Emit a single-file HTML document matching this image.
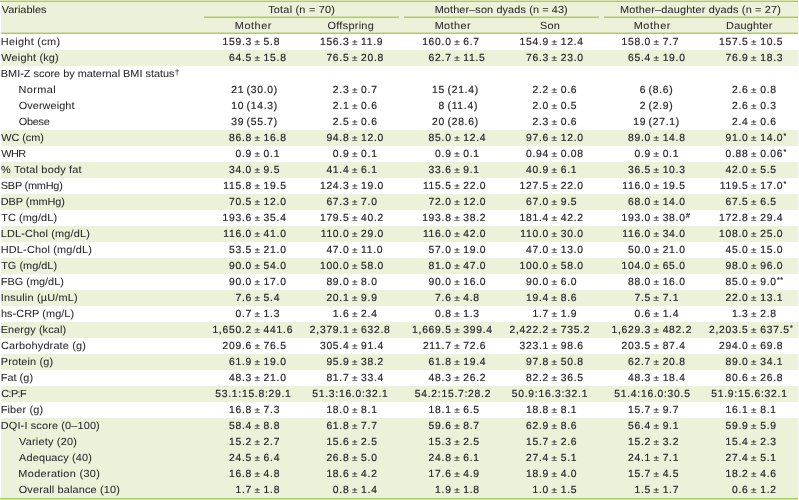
<!DOCTYPE html>
<html lang="en">
<head>
<meta charset="utf-8">
<title>Table</title>
<style>
html,body{margin:0;padding:0;background:#fff;}
body{width:799px;height:500px;overflow:hidden;position:relative;}
.wrap{position:absolute;left:0;top:0;width:799px;height:500px;overflow:hidden}
.bg{position:absolute;left:1px;width:797px;background:#ecf1da}
.ln{position:absolute;height:1px;background:#a8cd58}
table{position:absolute;left:1px;top:3px;width:797px;transform-origin:0 0;text-rendering:geometricPrecision;border-collapse:separate;border-spacing:0;table-layout:fixed;font-family:"Liberation Sans",sans-serif;font-size:10.3px;letter-spacing:0.42px;color:#262626;-webkit-text-stroke:0.2px #262626;}
col.c0{width:203px}
col.cn{width:99px}
th,td{padding:0;margin:0;font-weight:normal;white-space:nowrap;overflow:visible;line-height:16px;height:16px;text-align:left;vertical-align:top;background:transparent}
thead th{text-align:left}
thead tr.h1 th{height:16px;line-height:15px}
thead tr.h2 th{height:16px;line-height:15px}
thead th.v{text-align:left}
span.t{display:inline-block;transform-origin:0 50%}
tbody td{line-height:16px;letter-spacing:0.75px;word-spacing:-1.15px}
tbody td.v{letter-spacing:0.42px;word-spacing:0}
th,td.v{-webkit-text-stroke:0.05px #282828;color:#282828}
td.v sup{font-size:8px;top:-2.5px;margin-left:0.3px}
sup{font-size:7px;line-height:0;vertical-align:baseline;position:relative;top:-3.5px;letter-spacing:0.6px;margin-left:0.2px}
span.a{display:inline-block;text-align:right}
span.p{font-size:10px;margin:0 0.45px 0 0.0px;display:inline-block;line-height:16px;height:16px;vertical-align:top;transform-origin:50% 11px;transform:scaleY(0.85);-webkit-text-stroke:0.1px #262626}
td.c1 span.pm{width:48.0px}
td.c1 span.pr{width:40.15px}
td.c1 span.cp{width:34.3px}
td.c2 span.pm{width:46.45px}
td.c2 span.pr{width:39.0px}
td.c2 span.cp{width:32.3px}
td.c3 span.pm{width:49.65px}
td.c3 span.pr{width:43.0px}
td.c3 span.cp{width:35.8px}
td.c4 span.pm{width:48.05px}
td.c4 span.pr{width:41.0px}
td.c4 span.cp{width:33.8px}
td.c5 span.pm{width:51.0px}
td.c5 span.pr{width:46.1px}
td.c5 span.cp{width:37.3px}
td.c6 span.pm{width:49.55px}
td.c6 span.pr{width:41.0px}
td.c6 span.cp{width:35.3px}
</style>
</head>
<body>
<div class="wrap">
<div class="bg" style="top:2px;height:31px"></div>
<div class="bg" style="top:50px;height:16px"></div>
<div class="bg" style="top:130px;height:16px"></div>
<div class="bg" style="top:162px;height:16px"></div>
<div class="bg" style="top:194px;height:16px"></div>
<div class="bg" style="top:226px;height:16px"></div>
<div class="bg" style="top:258px;height:16px"></div>
<div class="bg" style="top:290px;height:16px"></div>
<div class="bg" style="top:322px;height:16px"></div>
<div class="bg" style="top:354px;height:16px"></div>
<div class="bg" style="top:386px;height:16px"></div>
<div class="bg" style="top:418px;height:80px"></div>
<div class="ln" style="left:0px;width:798px;top:0px;background:#d6e6ae"></div>
<div class="ln" style="left:0px;width:798px;top:1px"></div>
<div class="ln" style="left:204px;width:195px;top:16px;background:#cde09e"></div>
<div class="ln" style="left:204px;width:195px;top:17px"></div>
<div class="ln" style="left:404px;width:195px;top:16px;background:#cde09e"></div>
<div class="ln" style="left:404px;width:195px;top:17px"></div>
<div class="ln" style="left:604px;width:194px;top:16px;background:#cde09e"></div>
<div class="ln" style="left:604px;width:194px;top:17px"></div>
<div class="ln" style="left:1px;width:797px;top:32px;background:#cde09e"></div>
<div class="ln" style="left:1px;width:797px;top:33px"></div>
<div class="ln" style="left:0px;width:798px;top:499px;background:#d3e6ac"></div>
<div class="ln" style="left:0px;width:798px;top:498px"></div>
<div class="ln" style="left:798px;width:1px;top:2px;height:30px;background:#f7f9f1"></div>
<div class="ln" style="left:798px;width:1px;top:50px;height:16px;background:#f7f9f1"></div>
<div class="ln" style="left:798px;width:1px;top:130px;height:16px;background:#f7f9f1"></div>
<div class="ln" style="left:798px;width:1px;top:162px;height:16px;background:#f7f9f1"></div>
<div class="ln" style="left:798px;width:1px;top:194px;height:16px;background:#f7f9f1"></div>
<div class="ln" style="left:798px;width:1px;top:226px;height:16px;background:#f7f9f1"></div>
<div class="ln" style="left:798px;width:1px;top:258px;height:16px;background:#f7f9f1"></div>
<div class="ln" style="left:798px;width:1px;top:290px;height:16px;background:#f7f9f1"></div>
<div class="ln" style="left:798px;width:1px;top:322px;height:16px;background:#f7f9f1"></div>
<div class="ln" style="left:798px;width:1px;top:354px;height:16px;background:#f7f9f1"></div>
<div class="ln" style="left:798px;width:1px;top:386px;height:16px;background:#f7f9f1"></div>
<div class="ln" style="left:798px;width:1px;top:418px;height:80px;background:#f7f9f1"></div>
<table>
<colgroup><col class="c0"><col class="cn"><col class="cn"><col class="cn"><col class="cn"><col class="cn"><col class="cn"></colgroup>
<thead>
<tr class="h1"><th class="v" rowspan="2"><span class="t" style="transform:translateX(0.64px) scaleX(1.06);letter-spacing:0.022px">Variables</span></th><th class="grp g1" colspan="2"><span class="t" style="transform:translateX(64.16px) scaleX(1.06);letter-spacing:0.201px">Total (n = 70)</span></th><th class="grp g2" colspan="2"><span class="t" style="transform:translateX(32.64px) scaleX(1.06);letter-spacing:0.093px">Mother–son dyads (n = 43)</span></th><th class="grp g3" colspan="2"><span class="t" style="transform:translateX(20.09px) scaleX(1.06);letter-spacing:0.148px">Mother–daughter dyads (n = 27)</span></th></tr>
<tr class="h2"><th><span class="t" style="transform:translateX(30.83px) scaleX(1.06);letter-spacing:0.495px">Mother</span></th><th><span class="t" style="transform:translateX(24.42px) scaleX(1.06);letter-spacing:0.27px">Offspring</span></th><th><span class="t" style="transform:translateX(32.64px) scaleX(1.06);letter-spacing:0.359px">Mother</span></th><th><span class="t" style="transform:translateX(39.03px) scaleX(1.06);letter-spacing:0.219px">Son</span></th><th><span class="t" style="transform:translateX(33.64px) scaleX(1.06);letter-spacing:0.541px">Mother</span></th><th><span class="t" style="transform:translateX(27.12px) scaleX(1.06);letter-spacing:0.18px">Daughter</span></th></tr>
</thead>
<tbody>
<tr class="w"><td class="v i0"><span class="t" style="transform:translateX(-0.29px) scaleX(1.06);letter-spacing:0.28px">Height (cm)</span></td><td class="c1"><span class="a pm">159.3</span> <span class="p">±</span> 5.8</td><td class="c2"><span class="a pm">156.3</span> <span class="p">±</span> 11.9</td><td class="c3"><span class="a pm">160.0</span> <span class="p">±</span> 6.7</td><td class="c4"><span class="a pm">154.9</span> <span class="p">±</span> 12.4</td><td class="c5"><span class="a pm">158.0</span> <span class="p">±</span> 7.7</td><td class="c6"><span class="a pm">157.5</span> <span class="p">±</span> 10.5</td></tr>
<tr class="g"><td class="v i0"><span class="t" style="transform:translateX(0.32px) scaleX(1.06);letter-spacing:0.171px">Weight (kg)</span></td><td class="c1"><span class="a pm">64.5</span> <span class="p">±</span> 15.8</td><td class="c2"><span class="a pm">76.5</span> <span class="p">±</span> 20.8</td><td class="c3"><span class="a pm">62.7</span> <span class="p">±</span> 11.5</td><td class="c4"><span class="a pm">76.3</span> <span class="p">±</span> 23.0</td><td class="c5"><span class="a pm">65.4</span> <span class="p">±</span> 19.0</td><td class="c6"><span class="a pm">76.9</span> <span class="p">±</span> 18.3</td></tr>
<tr class="w"><td class="v i0"><span class="t" style="transform:translateX(-0.15px) scaleX(1.06);letter-spacing:-0.011px">BMI-Z score by maternal BMI status<sup>†</sup></span></td><td class="c1"></td><td class="c2"></td><td class="c3"></td><td class="c4"></td><td class="c5"></td><td class="c6"></td></tr>
<tr class="w"><td class="v i1"><span class="t" style="transform:translateX(17.4px) scaleX(1.06);letter-spacing:0.387px">Normal</span></td><td class="c1"><span class="a pr">21</span> (30.0)</td><td class="c2"><span class="a pm">2.3</span> <span class="p">±</span> 0.7</td><td class="c3"><span class="a pr">15</span> (21.4)</td><td class="c4"><span class="a pm">2.2</span> <span class="p">±</span> 0.6</td><td class="c5"><span class="a pr">6</span> (8.6)</td><td class="c6"><span class="a pm">2.6</span> <span class="p">±</span> 0.8</td></tr>
<tr class="w"><td class="v i1"><span class="t" style="transform:translateX(17.64px) scaleX(1.06);letter-spacing:0.07px">Overweight</span></td><td class="c1"><span class="a pr">10</span> (14.3)</td><td class="c2"><span class="a pm">2.1</span> <span class="p">±</span> 0.6</td><td class="c3"><span class="a pr">8</span> (11.4)</td><td class="c4"><span class="a pm">2.0</span> <span class="p">±</span> 0.5</td><td class="c5"><span class="a pr">2</span> (2.9)</td><td class="c6"><span class="a pm">2.6</span> <span class="p">±</span> 0.3</td></tr>
<tr class="w"><td class="v i1"><span class="t" style="transform:translateX(17.64px) scaleX(1.06);letter-spacing:-0.213px">Obese</span></td><td class="c1"><span class="a pr">39</span> (55.7)</td><td class="c2"><span class="a pm">2.5</span> <span class="p">±</span> 0.6</td><td class="c3"><span class="a pr">20</span> (28.6)</td><td class="c4"><span class="a pm">2.3</span> <span class="p">±</span> 0.6</td><td class="c5"><span class="a pr">19</span> (27.1)</td><td class="c6"><span class="a pm">2.4</span> <span class="p">±</span> 0.6</td></tr>
<tr class="g"><td class="v i0"><span class="t" style="transform:translateX(0.32px) scaleX(1.06);letter-spacing:-0.088px">WC (cm)</span></td><td class="c1"><span class="a pm">86.8</span> <span class="p">±</span> 16.8</td><td class="c2"><span class="a pm">94.8</span> <span class="p">±</span> 12.0</td><td class="c3"><span class="a pm">85.0</span> <span class="p">±</span> 12.4</td><td class="c4"><span class="a pm">97.6</span> <span class="p">±</span> 12.0</td><td class="c5"><span class="a pm">89.0</span> <span class="p">±</span> 14.8</td><td class="c6"><span class="a pm">91.0</span> <span class="p">±</span> 14.0<sup>*</sup></td></tr>
<tr class="w"><td class="v i0"><span class="t" style="transform:translateX(0.3px) scaleX(1.06);letter-spacing:-0.612px">WHR</span></td><td class="c1"><span class="a pm">0.9</span> <span class="p">±</span> 0.1</td><td class="c2"><span class="a pm">0.9</span> <span class="p">±</span> 0.1</td><td class="c3"><span class="a pm">0.9</span> <span class="p">±</span> 0.1</td><td class="c4"><span class="a pm">0.94</span> <span class="p">±</span> 0.08</td><td class="c5"><span class="a pm">0.9</span> <span class="p">±</span> 0.1</td><td class="c6"><span class="a pm">0.88</span> <span class="p">±</span> 0.06<sup>*</sup></td></tr>
<tr class="g"><td class="v i0"><span class="t" style="transform:translateX(0.11px) scaleX(1.06);letter-spacing:0.192px">% Total body fat</span></td><td class="c1"><span class="a pm">34.0</span> <span class="p">±</span> 9.5</td><td class="c2"><span class="a pm">41.4</span> <span class="p">±</span> 6.1</td><td class="c3"><span class="a pm">33.6</span> <span class="p">±</span> 9.1</td><td class="c4"><span class="a pm">40.9</span> <span class="p">±</span> 6.1</td><td class="c5"><span class="a pm">36.5</span> <span class="p">±</span> 10.3</td><td class="c6"><span class="a pm">42.0</span> <span class="p">±</span> 5.5</td></tr>
<tr class="w"><td class="v i0"><span class="t" style="transform:translateX(-0.21px) scaleX(1.06);letter-spacing:-0.214px">SBP (mmHg)</span></td><td class="c1"><span class="a pm">115.8</span> <span class="p">±</span> 19.5</td><td class="c2"><span class="a pm">124.3</span> <span class="p">±</span> 19.0</td><td class="c3"><span class="a pm">115.5</span> <span class="p">±</span> 22.0</td><td class="c4"><span class="a pm">127.5</span> <span class="p">±</span> 22.0</td><td class="c5"><span class="a pm">116.0</span> <span class="p">±</span> 19.5</td><td class="c6"><span class="a pm">119.5</span> <span class="p">±</span> 17.0<sup>*</sup></td></tr>
<tr class="g"><td class="v i0"><span class="t" style="transform:translateX(-0.19px) scaleX(1.06);letter-spacing:-0.064px">DBP (mmHg)</span></td><td class="c1"><span class="a pm">70.5</span> <span class="p">±</span> 12.0</td><td class="c2"><span class="a pm">67.3</span> <span class="p">±</span> 7.0</td><td class="c3"><span class="a pm">72.0</span> <span class="p">±</span> 12.0</td><td class="c4"><span class="a pm">67.0</span> <span class="p">±</span> 9.5</td><td class="c5"><span class="a pm">68.0</span> <span class="p">±</span> 14.0</td><td class="c6"><span class="a pm">67.5</span> <span class="p">±</span> 6.5</td></tr>
<tr class="w"><td class="v i0"><span class="t" style="transform:translateX(0.15px) scaleX(1.06);letter-spacing:0.071px">TC (mg/dL)</span></td><td class="c1"><span class="a pm">193.6</span> <span class="p">±</span> 35.4</td><td class="c2"><span class="a pm">179.5</span> <span class="p">±</span> 40.2</td><td class="c3"><span class="a pm">193.8</span> <span class="p">±</span> 38.2</td><td class="c4"><span class="a pm">181.4</span> <span class="p">±</span> 42.2</td><td class="c5"><span class="a pm">193.0</span> <span class="p">±</span> 38.0<sup>#</sup></td><td class="c6"><span class="a pm">172.8</span> <span class="p">±</span> 29.4</td></tr>
<tr class="g"><td class="v i0"><span class="t" style="transform:translateX(-0.36px) scaleX(1.06);letter-spacing:0.156px">LDL-Chol (mg/dL)</span></td><td class="c1"><span class="a pm">116.0</span> <span class="p">±</span> 41.0</td><td class="c2"><span class="a pm">110.0</span> <span class="p">±</span> 29.0</td><td class="c3"><span class="a pm">116.0</span> <span class="p">±</span> 42.0</td><td class="c4"><span class="a pm">110.0</span> <span class="p">±</span> 30.0</td><td class="c5"><span class="a pm">116.0</span> <span class="p">±</span> 34.0</td><td class="c6"><span class="a pm">108.0</span> <span class="p">±</span> 25.0</td></tr>
<tr class="w"><td class="v i0"><span class="t" style="transform:translateX(-0.29px) scaleX(1.06);letter-spacing:0.167px">HDL-Chol (mg/dL)</span></td><td class="c1"><span class="a pm">53.5</span> <span class="p">±</span> 21.0</td><td class="c2"><span class="a pm">47.0</span> <span class="p">±</span> 11.0</td><td class="c3"><span class="a pm">57.0</span> <span class="p">±</span> 19.0</td><td class="c4"><span class="a pm">47.0</span> <span class="p">±</span> 13.0</td><td class="c5"><span class="a pm">50.0</span> <span class="p">±</span> 21.0</td><td class="c6"><span class="a pm">45.0</span> <span class="p">±</span> 15.0</td></tr>
<tr class="g"><td class="v i0"><span class="t" style="transform:translateX(0.15px) scaleX(1.06);letter-spacing:0.013px">TG (mg/dL)</span></td><td class="c1"><span class="a pm">90.0</span> <span class="p">±</span> 54.0</td><td class="c2"><span class="a pm">100.0</span> <span class="p">±</span> 58.0</td><td class="c3"><span class="a pm">81.0</span> <span class="p">±</span> 47.0</td><td class="c4"><span class="a pm">100.0</span> <span class="p">±</span> 58.0</td><td class="c5"><span class="a pm">104.0</span> <span class="p">±</span> 65.0</td><td class="c6"><span class="a pm">98.0</span> <span class="p">±</span> 96.0</td></tr>
<tr class="w"><td class="v i0"><span class="t" style="transform:translateX(-0.29px) scaleX(1.06);letter-spacing:0.012px">FBG (mg/dL)</span></td><td class="c1"><span class="a pm">90.0</span> <span class="p">±</span> 17.0</td><td class="c2"><span class="a pm">89.0</span> <span class="p">±</span> 8.0</td><td class="c3"><span class="a pm">90.0</span> <span class="p">±</span> 16.0</td><td class="c4"><span class="a pm">90.0</span> <span class="p">±</span> 6.0</td><td class="c5"><span class="a pm">88.0</span> <span class="p">±</span> 16.0</td><td class="c6"><span class="a pm">85.0</span> <span class="p">±</span> 9.0<sup>**</sup></td></tr>
<tr class="g"><td class="v i0"><span class="t" style="transform:translateX(-0.28px) scaleX(1.06);letter-spacing:0.188px">Insulin (µU/mL)</span></td><td class="c1"><span class="a pm">7.6</span> <span class="p">±</span> 5.4</td><td class="c2"><span class="a pm">20.1</span> <span class="p">±</span> 9.9</td><td class="c3"><span class="a pm">7.6</span> <span class="p">±</span> 4.8</td><td class="c4"><span class="a pm">19.4</span> <span class="p">±</span> 8.6</td><td class="c5"><span class="a pm">7.5</span> <span class="p">±</span> 7.1</td><td class="c6"><span class="a pm">22.0</span> <span class="p">±</span> 13.1</td></tr>
<tr class="w"><td class="v i0"><span class="t" style="transform:translateX(-0.04px) scaleX(1.06);letter-spacing:0.042px">hs-CRP (mg/L)</span></td><td class="c1"><span class="a pm">0.7</span> <span class="p">±</span> 1.3</td><td class="c2"><span class="a pm">1.6</span> <span class="p">±</span> 2.4</td><td class="c3"><span class="a pm">0.8</span> <span class="p">±</span> 1.3</td><td class="c4"><span class="a pm">1.7</span> <span class="p">±</span> 1.9</td><td class="c5"><span class="a pm">0.6</span> <span class="p">±</span> 1.4</td><td class="c6"><span class="a pm">1.3</span> <span class="p">±</span> 2.8</td></tr>
<tr class="g"><td class="v i0"><span class="t" style="transform:translateX(-0.36px) scaleX(1.06);letter-spacing:0.086px">Energy (kcal)</span></td><td class="c1"><span class="a pm">1,650.2</span> <span class="p">±</span> 441.6</td><td class="c2"><span class="a pm">2,379.1</span> <span class="p">±</span> 632.8</td><td class="c3"><span class="a pm">1,669.5</span> <span class="p">±</span> 399.4</td><td class="c4"><span class="a pm">2,422.2</span> <span class="p">±</span> 735.2</td><td class="c5"><span class="a pm">1,629.3</span> <span class="p">±</span> 482.2</td><td class="c6"><span class="a pm">2,203.5</span> <span class="p">±</span> 637.5<sup>*</sup></td></tr>
<tr class="w"><td class="v i0"><span class="t" style="transform:translateX(0.09px) scaleX(1.06);letter-spacing:0.139px">Carbohydrate (g)</span></td><td class="c1"><span class="a pm">209.6</span> <span class="p">±</span> 76.5</td><td class="c2"><span class="a pm">305.4</span> <span class="p">±</span> 91.4</td><td class="c3"><span class="a pm">211.7</span> <span class="p">±</span> 72.6</td><td class="c4"><span class="a pm">323.1</span> <span class="p">±</span> 98.6</td><td class="c5"><span class="a pm">203.5</span> <span class="p">±</span> 87.4</td><td class="c6"><span class="a pm">294.0</span> <span class="p">±</span> 69.8</td></tr>
<tr class="g"><td class="v i0"><span class="t" style="transform:translateX(-0.19px) scaleX(1.06);letter-spacing:0.119px">Protein (g)</span></td><td class="c1"><span class="a pm">61.9</span> <span class="p">±</span> 19.0</td><td class="c2"><span class="a pm">95.9</span> <span class="p">±</span> 38.2</td><td class="c3"><span class="a pm">61.8</span> <span class="p">±</span> 19.4</td><td class="c4"><span class="a pm">97.8</span> <span class="p">±</span> 50.8</td><td class="c5"><span class="a pm">62.7</span> <span class="p">±</span> 20.8</td><td class="c6"><span class="a pm">89.0</span> <span class="p">±</span> 34.1</td></tr>
<tr class="w"><td class="v i0"><span class="t" style="transform:translateX(-0.29px) scaleX(1.06);letter-spacing:0.025px">Fat (g)</span></td><td class="c1"><span class="a pm">48.3</span> <span class="p">±</span> 21.0</td><td class="c2"><span class="a pm">81.7</span> <span class="p">±</span> 33.4</td><td class="c3"><span class="a pm">48.3</span> <span class="p">±</span> 26.2</td><td class="c4"><span class="a pm">82.2</span> <span class="p">±</span> 36.5</td><td class="c5"><span class="a pm">48.3</span> <span class="p">±</span> 18.4</td><td class="c6"><span class="a pm">80.6</span> <span class="p">±</span> 26.8</td></tr>
<tr class="g"><td class="v i0"><span class="t" style="transform:translateX(0.24px) scaleX(1.06);letter-spacing:-0.592px">C:P:F</span></td><td class="c1"><span class="a cp">53.1</span>:15.8:29.1</td><td class="c2"><span class="a cp">51.3</span>:16.0:32.1</td><td class="c3"><span class="a cp">54.2</span>:15.7:28.2</td><td class="c4"><span class="a cp">50.9</span>:16.3:32.1</td><td class="c5"><span class="a cp">51.4</span>:16.0:30.5</td><td class="c6"><span class="a cp">51.9</span>:15.6:32.1</td></tr>
<tr class="w"><td class="v i0"><span class="t" style="transform:translateX(-0.29px) scaleX(1.06);letter-spacing:0.147px">Fiber (g)</span></td><td class="c1"><span class="a pm">16.8</span> <span class="p">±</span> 7.3</td><td class="c2"><span class="a pm">18.0</span> <span class="p">±</span> 8.1</td><td class="c3"><span class="a pm">18.1</span> <span class="p">±</span> 6.5</td><td class="c4"><span class="a pm">18.8</span> <span class="p">±</span> 8.1</td><td class="c5"><span class="a pm">15.7</span> <span class="p">±</span> 9.7</td><td class="c6"><span class="a pm">16.1</span> <span class="p">±</span> 8.1</td></tr>
<tr class="g"><td class="v i0"><span class="t" style="transform:translateX(-0.19px) scaleX(1.06);letter-spacing:0.129px">DQI-I score (0–100)</span></td><td class="c1"><span class="a pm">58.4</span> <span class="p">±</span> 8.8</td><td class="c2"><span class="a pm">61.8</span> <span class="p">±</span> 7.7</td><td class="c3"><span class="a pm">59.6</span> <span class="p">±</span> 8.7</td><td class="c4"><span class="a pm">62.9</span> <span class="p">±</span> 8.6</td><td class="c5"><span class="a pm">56.4</span> <span class="p">±</span> 9.1</td><td class="c6"><span class="a pm">59.9</span> <span class="p">±</span> 5.9</td></tr>
<tr class="g"><td class="v i1"><span class="t" style="transform:translateX(17.98px) scaleX(1.06);letter-spacing:0.197px">Variety (20)</span></td><td class="c1"><span class="a pm">15.2</span> <span class="p">±</span> 2.7</td><td class="c2"><span class="a pm">15.6</span> <span class="p">±</span> 2.5</td><td class="c3"><span class="a pm">15.3</span> <span class="p">±</span> 2.5</td><td class="c4"><span class="a pm">15.7</span> <span class="p">±</span> 2.6</td><td class="c5"><span class="a pm">15.2</span> <span class="p">±</span> 3.2</td><td class="c6"><span class="a pm">15.4</span> <span class="p">±</span> 2.3</td></tr>
<tr class="g"><td class="v i1"><span class="t" style="transform:translateX(18.05px) scaleX(1.06);letter-spacing:0.14px">Adequacy (40)</span></td><td class="c1"><span class="a pm">24.5</span> <span class="p">±</span> 6.4</td><td class="c2"><span class="a pm">26.8</span> <span class="p">±</span> 5.0</td><td class="c3"><span class="a pm">24.8</span> <span class="p">±</span> 6.1</td><td class="c4"><span class="a pm">27.4</span> <span class="p">±</span> 5.1</td><td class="c5"><span class="a pm">24.1</span> <span class="p">±</span> 7.1</td><td class="c6"><span class="a pm">27.4</span> <span class="p">±</span> 5.1</td></tr>
<tr class="g"><td class="v i1"><span class="t" style="transform:translateX(17.35px) scaleX(1.06);letter-spacing:0.3px">Moderation (30)</span></td><td class="c1"><span class="a pm">16.8</span> <span class="p">±</span> 4.8</td><td class="c2"><span class="a pm">18.6</span> <span class="p">±</span> 4.2</td><td class="c3"><span class="a pm">17.6</span> <span class="p">±</span> 4.9</td><td class="c4"><span class="a pm">18.9</span> <span class="p">±</span> 4.0</td><td class="c5"><span class="a pm">15.7</span> <span class="p">±</span> 4.5</td><td class="c6"><span class="a pm">18.2</span> <span class="p">±</span> 4.6</td></tr>
<tr class="g"><td class="v i1"><span class="t" style="transform:translateX(17.67px) scaleX(1.06);letter-spacing:0.145px">Overall balance (10)</span></td><td class="c1"><span class="a pm">1.7</span> <span class="p">±</span> 1.8</td><td class="c2"><span class="a pm">0.8</span> <span class="p">±</span> 1.4</td><td class="c3"><span class="a pm">1.9</span> <span class="p">±</span> 1.8</td><td class="c4"><span class="a pm">1.0</span> <span class="p">±</span> 1.5</td><td class="c5"><span class="a pm">1.5</span> <span class="p">±</span> 1.7</td><td class="c6"><span class="a pm">0.6</span> <span class="p">±</span> 1.2</td></tr>
</tbody>
</table>
</div>
</body>
</html>
